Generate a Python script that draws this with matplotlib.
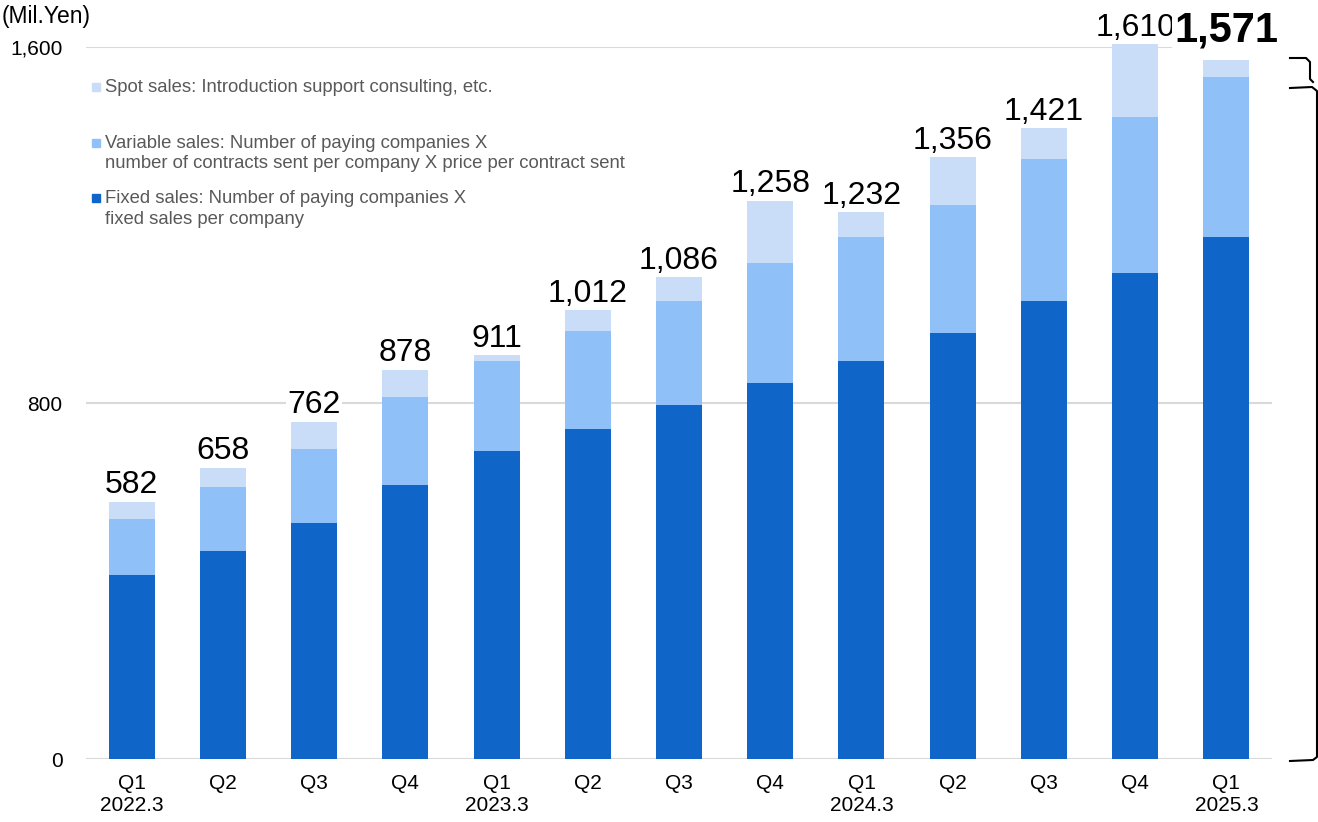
import matplotlib.pyplot as plt
from matplotlib.patches import Rectangle
from matplotlib.lines import Line2D
import numpy as np

plt.rcParams['font.family'] = ['Liberation Sans', 'Noto Sans CJK JP', 'DejaVu Sans']

quarters = ['Q1\n2022.3', 'Q2', 'Q3', 'Q4', 'Q1\n2023.3', 'Q2', 'Q3', 'Q4',
            'Q1\n2024.3', 'Q2', 'Q3', 'Q4', 'Q1\n2025.3']
totals = [582, 658, 762, 878, 911, 1012, 1086, 1258, 1232, 1356, 1421, 1610, 1571]
fixed = [413, 467, 530, 616, 692, 742, 796, 845, 894, 957, 1029, 1092, 1173]
variable = [126, 144, 167, 197, 202, 220, 233, 270, 279, 288, 319, 351, 360]
spot = [t - f - v for t, f, v in zip(totals, fixed, variable)]

c_fixed = '#0f66c8'
c_var = '#90c0f8'
c_spot = '#c9ddf9'
W, H = 1318, 822

fig = plt.figure(figsize=(13.18, 8.22), dpi=100)
ax = fig.add_axes([86 / W, 1 - 759 / H, (1272 - 86) / W, (759 - 47) / H])

x = np.arange(len(quarters))
bw = 0.505
ax.bar(x, fixed, bw, color=c_fixed, zorder=2, clip_on=False)
ax.bar(x, variable, bw, bottom=fixed, color=c_var, zorder=2, clip_on=False)
ax.bar(x, spot, bw, bottom=np.array(fixed) + np.array(variable), color=c_spot,
       zorder=2, clip_on=False)

for i, t in enumerate(totals):
    last = i == len(totals) - 1
    ax.annotate(f'{t:,}', (x[i], t), xytext=(0, 13 if last else 5),
                textcoords='offset points', ha='center', va='baseline',
                fontsize=30 if last else 23, fontweight='bold' if last else 'normal',
                color='black', zorder=3, annotation_clip=False,
                bbox=dict(boxstyle='square,pad=0.05', fc='white', ec='none'))

ax.set_xlim(-0.5, 12.5)
ax.set_ylim(0, 1600)
ax.set_yticks([0, 800, 1600])
ax.set_yticklabels(['0', '800', '1,600'])
ax.set_xticks(x)
ax.set_xticklabels(quarters, linespacing=1.2)
ax.tick_params(axis='both', length=0, labelsize=15, colors='black')
ax.tick_params(axis='x', pad=11)
ax.tick_params(axis='y', pad=17)
for s in ax.spines.values():
    s.set_visible(False)
for yv in [0, 800, 1600]:
    ax.axhline(yv, color='#d9d9d9', lw=1.5, zorder=1)

fig.text(2 / W, 1 - 16 / H, '(Mil.Yen)', fontsize=16.5, va='center', ha='left')

# legend drawn by hand, matching the uneven spacing
legend_items = [
    (c_spot, 87, ['Spot sales: Introduction support consulting, etc.']),
    (c_var, 143, ['Variable sales: Number of paying companies X',
                  'number of contracts sent per company X price per contract sent']),
    (c_fixed, 198, ['Fixed sales: Number of paying companies X',
                    'fixed sales per company']),
]
for col, ypx, lines in legend_items:
    fig.patches.append(Rectangle((92 / W, 1 - (ypx + 4) / H), 8 / W, 8 / H,
                                 transform=fig.transFigure, color=col))
    for k, line in enumerate(lines):
        fig.text(105 / W, 1 - (ypx + k * 21) / H, line, fontsize=13.3,
                 color='#595959', va='center', ha='left')

# brackets on the right
def px_line(xs, ys):
    fig.lines.append(Line2D([v / W for v in xs], [1 - v / H for v in ys],
                            transform=fig.transFigure, color='black', lw=1.5))

px_line([1290, 1306, 1310, 1310, 1313], [58, 58, 62, 79, 82])
px_line([1290, 1312, 1317, 1317, 1313, 1290], [88, 87, 91, 757, 760, 761])

fig.savefig('out.png', dpi=100)
